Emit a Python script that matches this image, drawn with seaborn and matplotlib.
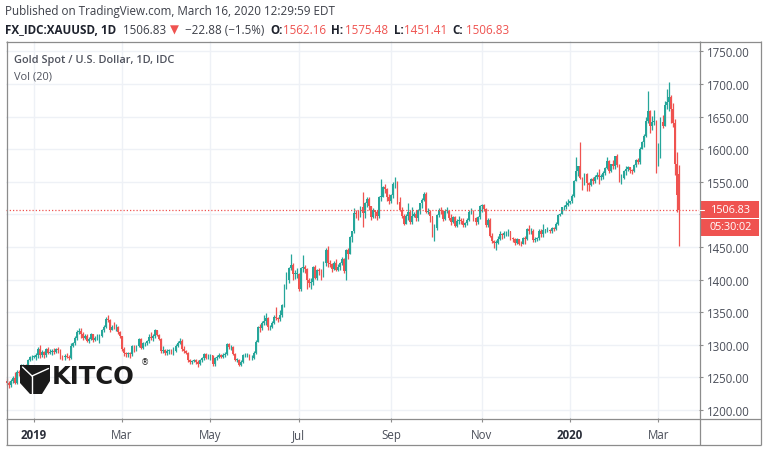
import numpy as np
import pandas as pd
import matplotlib
matplotlib.use("Agg")
import matplotlib.pyplot as plt
import seaborn as sns
from matplotlib.patches import Rectangle, Polygon
from matplotlib.ticker import FuncFormatter

# ---------------- data (daily candles, XAU/USD, FX_IDC) ----------------
start_date = "2018-12-13"
first_open = 1244.0
last_open = 1562.16

closes = [
    # Dec 2018
    1242, 1238, 1245, 1249, 1242, 1258, 1257, 1268, 1268, 1267, 1276, 1281, 1282,
    # Jan 2019
    1282, 1284, 1294, 1285, 1289, 1284, 1293, 1288, 1289, 1291, 1289, 1293, 1292, 1282, 1281, 1283, 1282, 1280, 1298, 1302, 1311, 1319, 1321,
    # Feb
    1317, 1311, 1314, 1306, 1309, 1316, 1308, 1311, 1313, 1314, 1322, 1327, 1340, 1338, 1323, 1328, 1327, 1328, 1319, 1313,
    # Mar
    1293, 1287, 1286, 1287, 1286, 1298, 1291, 1298, 1309, 1295, 1302, 1302, 1306, 1312, 1310, 1313, 1322, 1315, 1309, 1291, 1292,
    # Apr
    1287, 1291, 1291, 1290, 1291, 1298, 1303, 1306, 1293, 1290, 1288, 1276, 1273, 1275, 1276, 1274, 1271, 1276, 1280, 1286, 1280, 1283,
    # May
    1284, 1271, 1280, 1282, 1284, 1281, 1284, 1286, 1301, 1296, 1297, 1286, 1277, 1277, 1269, 1274, 1284, 1284, 1285, 1279, 1280, 1288, 1305,
    # Jun
    1327, 1326, 1333, 1337, 1341, 1327, 1327, 1334, 1342, 1341, 1340, 1346, 1361, 1387, 1399, 1418, 1423, 1409, 1409, 1409,
    # Jul
    1385, 1418, 1419, 1416, 1400, 1395, 1397, 1419, 1403, 1415, 1413, 1406, 1426, 1446, 1426, 1424, 1417, 1426, 1415, 1419, 1426, 1431, 1413,
    # Aug
    1445, 1440, 1465, 1474, 1502, 1500, 1497, 1511, 1502, 1517, 1524, 1513, 1496, 1507, 1503, 1497, 1527, 1527, 1542, 1539, 1527, 1520,
    # Sep
    1530, 1547, 1550, 1519, 1506, 1498, 1486, 1497, 1504, 1488, 1498, 1501, 1494, 1506, 1517, 1522, 1531, 1504, 1504, 1497, 1472,
    # Oct
    1479, 1499, 1506, 1505, 1493, 1505, 1505, 1494, 1489, 1496, 1482, 1490, 1491, 1490, 1484, 1487, 1492, 1504, 1505, 1494, 1488, 1496, 1513,
    # Nov
    1514, 1509, 1484, 1491, 1467, 1459, 1456, 1456, 1463, 1470, 1468, 1471, 1472, 1474, 1464, 1462, 1456, 1462, 1455, 1454, 1464,
    # Dec
    1462, 1477, 1474, 1475, 1460, 1462, 1464, 1475, 1470, 1476, 1476, 1476, 1475, 1479, 1478, 1486, 1499, 1501, 1511, 1511, 1515, 1517,
    # Jan 2020
    1520, 1528, 1552, 1566, 1574, 1556, 1552, 1562, 1548, 1545, 1554, 1552, 1557, 1560, 1558, 1558, 1563, 1571, 1582, 1567, 1577, 1575, 1589,
    # Feb 2020
    1576, 1553, 1556, 1566, 1570, 1572, 1568, 1566, 1576, 1584, 1580, 1601, 1611, 1620, 1643, 1658, 1635, 1641, 1643, 1586,
    # Mar 2020
    1591, 1641, 1636, 1668, 1673, 1680, 1662, 1640, 1577, 1529.71, 1506.83,
]

highs = [
    1249, 1244, 1248, 1252, 1258, 1261, 1262, 1270, 1270, 1271, 1278, 1283, 1284,
    1284, 1288, 1296, 1299, 1292, 1290, 1295, 1296, 1293, 1294, 1295, 1295, 1297, 1294, 1284, 1286, 1287, 1285, 1303, 1304, 1313, 1322, 1326,
    1325, 1319, 1316, 1316, 1312, 1318, 1317, 1314, 1316, 1317, 1324, 1330, 1342, 1346, 1340, 1331, 1335, 1332, 1329, 1321,
    1314, 1296, 1289, 1289, 1289, 1300, 1299, 1300, 1311, 1310, 1304, 1305, 1308, 1316, 1320, 1316, 1324, 1323, 1317, 1310, 1298,
    1294, 1293, 1294, 1293, 1296, 1301, 1306, 1310, 1309, 1298, 1292, 1289, 1278, 1277, 1278, 1278, 1276, 1278, 1282, 1288, 1287, 1286,
    1286, 1284, 1282, 1284, 1287, 1286, 1287, 1289, 1303, 1302, 1300, 1298, 1288, 1280, 1278, 1276, 1286, 1287, 1287, 1286, 1284, 1290, 1307,
    1329, 1332, 1336, 1346, 1348, 1342, 1331, 1337, 1346, 1358, 1343, 1353, 1363, 1393, 1411, 1420, 1439, 1425, 1415, 1418,
    1410, 1420, 1438, 1422, 1418, 1403, 1402, 1421, 1423, 1417, 1418, 1416, 1428, 1448, 1452, 1430, 1426, 1428, 1432, 1424, 1427, 1434, 1433,
    1447, 1449, 1467, 1475, 1510, 1507, 1506, 1513, 1534, 1519, 1526, 1526, 1513, 1510, 1507, 1506, 1529, 1555, 1543, 1546, 1541, 1531,
    1532, 1549, 1557, 1552, 1527, 1512, 1500, 1501, 1518, 1506, 1512, 1504, 1507, 1509, 1518, 1525, 1535, 1534, 1510, 1507, 1497,
    1485, 1501, 1510, 1512, 1507, 1508, 1511, 1507, 1500, 1498, 1497, 1493, 1497, 1495, 1494, 1489, 1495, 1506, 1510, 1506, 1496, 1498, 1515,
    1516, 1516, 1510, 1495, 1494, 1471, 1461, 1460, 1467, 1474, 1471, 1474, 1475, 1478, 1475, 1466, 1464, 1464, 1462, 1459, 1466,
    1467, 1479, 1484, 1479, 1477, 1466, 1466, 1477, 1477, 1486, 1478, 1481, 1478, 1481, 1480, 1488, 1500, 1502, 1512, 1514, 1520, 1524,
    1521, 1532, 1553, 1588, 1575, 1611, 1558, 1563, 1563, 1550, 1556, 1558, 1560, 1565, 1570, 1562, 1566, 1573, 1588, 1583, 1578, 1584, 1589,
    1592, 1577, 1562, 1568, 1574, 1575, 1573, 1570, 1578, 1585, 1586, 1604, 1612, 1623, 1649, 1689, 1660, 1651, 1660, 1645,
    1610, 1649, 1652, 1674, 1692, 1703, 1683, 1671, 1646, 1595, 1575.48,
]

lows = [
    1238, 1234, 1236, 1242, 1240, 1240, 1252, 1255, 1266, 1263, 1264, 1275, 1277,
    1280, 1276, 1280, 1280, 1282, 1279, 1282, 1286, 1286, 1285, 1286, 1287, 1288, 1278, 1277, 1276, 1279, 1277, 1278, 1296, 1300, 1308, 1316,
    1310, 1308, 1309, 1304, 1303, 1307, 1305, 1306, 1307, 1303, 1312, 1320, 1325, 1335, 1320, 1322, 1324, 1321, 1316, 1310,
    1291, 1283, 1282, 1281, 1280, 1283, 1289, 1290, 1296, 1293, 1294, 1298, 1300, 1302, 1308, 1306, 1311, 1313, 1307, 1288, 1288,
    1284, 1284, 1286, 1286, 1285, 1289, 1296, 1301, 1291, 1288, 1286, 1274, 1271, 1270, 1273, 1271, 1266, 1269, 1274, 1277, 1278, 1278,
    1277, 1268, 1267, 1276, 1279, 1279, 1280, 1281, 1284, 1294, 1292, 1284, 1275, 1273, 1267, 1268, 1272, 1281, 1282, 1276, 1276, 1278, 1286,
    1304, 1320, 1322, 1330, 1331, 1323, 1322, 1326, 1332, 1338, 1335, 1337, 1342, 1358, 1385, 1395, 1414, 1400, 1401, 1402,
    1382, 1383, 1412, 1410, 1386, 1388, 1385, 1392, 1401, 1400, 1407, 1400, 1404, 1421, 1420, 1419, 1412, 1414, 1413, 1413, 1414, 1423, 1410,
    1400, 1432, 1439, 1457, 1471, 1495, 1492, 1496, 1480, 1495, 1511, 1506, 1492, 1494, 1495, 1492, 1494, 1520, 1526, 1533, 1520, 1516,
    1517, 1525, 1541, 1516, 1505, 1494, 1484, 1485, 1491, 1486, 1486, 1496, 1490, 1490, 1501, 1510, 1520, 1502, 1500, 1488, 1465,
    1459, 1476, 1496, 1501, 1490, 1491, 1502, 1491, 1484, 1487, 1480, 1480, 1486, 1485, 1481, 1481, 1484, 1490, 1500, 1490, 1484, 1485, 1493,
    1503, 1505, 1481, 1480, 1466, 1456, 1449, 1445, 1455, 1460, 1463, 1464, 1467, 1467, 1461, 1458, 1453, 1454, 1453, 1452, 1454,
    1455, 1460, 1470, 1470, 1458, 1458, 1459, 1461, 1465, 1466, 1472, 1473, 1472, 1472, 1474, 1476, 1484, 1497, 1500, 1507, 1508, 1513,
    1516, 1517, 1526, 1552, 1559, 1554, 1537, 1545, 1536, 1536, 1543, 1546, 1548, 1555, 1547, 1553, 1554, 1560, 1569, 1563, 1565, 1569, 1570,
    1573, 1549, 1547, 1554, 1561, 1567, 1563, 1562, 1565, 1573, 1578, 1578, 1600, 1604, 1618, 1640, 1625, 1630, 1637, 1563,
    1575, 1586, 1633, 1635, 1662, 1658, 1640, 1634, 1560, 1504, 1451.41,
]

tick_dates = ["2019-01-01", "2019-03-01", "2019-05-01", "2019-07-01",
              "2019-09-02", "2019-11-01", "2020-01-01", "2020-03-02"]
tick_labels = ["2019", "Mar", "May", "Jul", "Sep", "Nov", "2020", "Mar"]
year_labels = {"2019", "2020"}
price_ticks = [1200, 1250, 1300, 1350, 1400, 1450, 1500, 1550, 1600, 1650, 1700, 1750]
hidden_price_labels = [1500]   # covered by the last-price tag in the reference
last_price = 1506.83
countdown = "05:30:02"

# ---------------- styling ----------------
UP = "#26a69a"
DOWN = "#ef5350"
GRID = "#eef1f6"
FRAME = "#8c8c8c"
TXT = "#4a4e59"

sns.set_theme(style="white")
plt.rcParams["font.family"] = ["Open Sans", "DejaVu Sans"]

closes = np.asarray(closes, float)
highs = np.asarray(highs, float)
lows = np.asarray(lows, float)
n = len(closes)
dates = pd.bdate_range(start_date, periods=n)
opens = np.r_[first_open, closes[:-1]]
opens[-1] = last_open
df = pd.DataFrame({"date": dates, "open": opens, "high": highs,
                   "low": lows, "close": closes})
df["i"] = np.arange(n)
df["up"] = df["close"] >= df["open"]

W, H = 768, 452
fig = plt.figure(figsize=(W / 100, H / 100), dpi=100)
fig.patch.set_facecolor("white")

PX_BAR = 2.055
ax = fig.add_axes([6 / W, 1 - 419 / H, 693 / W, 377 / H])
ax.set_facecolor("white")
ax.set_xlim(-0.49, -0.49 + 693 / PX_BAR)
ax.set_ylim(1187.7, 1766.0)

# grid
ax.set_yticks(price_ticks)
tick_pos = dates.get_indexer(pd.to_datetime(tick_dates))
ax.set_xticks(tick_pos)
ax.set_xticklabels(tick_labels)
ax.grid(True, color=GRID, lw=1.0, zorder=0)
ax.set_axisbelow(True)
for s in ax.spines.values():
    s.set_visible(False)

# candles
cols = np.where(df["up"], UP, DOWN)
ax.vlines(df["i"], df["low"], df["high"], colors=cols, lw=0.9, zorder=2)
body_bot = np.minimum(df["open"], df["close"])
body_h = np.maximum(np.abs(df["close"] - df["open"]), 1.0)
ax.bar(df["i"], body_h, bottom=body_bot, width=0.86, color=cols,
       linewidth=0, zorder=3)

# last price dotted line
ax.axhline(last_price, color=DOWN, lw=0.9, ls=(0, (1, 1.6)), zorder=4)

# axis ticks
ax.yaxis.tick_right()
ax.yaxis.set_major_formatter(FuncFormatter(
    lambda v, p: "" if round(v) in hidden_price_labels else f"{v:.2f}"))
ax.tick_params(axis="y", right=True, left=False, length=3, width=0.8,
               color=FRAME, labelcolor=TXT, labelsize=8.3, pad=3)
ax.tick_params(axis="x", bottom=True, length=3, width=0.8, color=FRAME,
               labelcolor=TXT, labelsize=8.3, pad=4)
for lab in ax.get_xticklabels():
    if lab.get_text() in year_labels:
        lab.set_fontweight("bold")
        lab.set_color("#2a2e39")

# ---------------- overlay: frame, header, labels, logo ----------------
ov = fig.add_axes([0, 0, 1, 1], zorder=5)
ov.set_xlim(0, W)
ov.set_ylim(H, 0)
ov.axis("off")
ov.patch.set_alpha(0)

fl = dict(color=FRAME, lw=0.9, solid_capstyle="butt")
ov.plot([6, 761], [42.5, 42.5], **fl)
ov.plot([6, 761], [419.5, 419.5], **fl)
ov.plot([6, 761], [445.5, 445.5], **fl)
ov.plot([6.5, 6.5], [42, 446], **fl)
ov.plot([699.5, 699.5], [42, 446], **fl)
ov.plot([760.5, 760.5], [42, 446], **fl)

# last price labels
ov.add_patch(Rectangle((700, 201.5), 59, 17, color=DOWN, lw=0))
ov.add_patch(Rectangle((700, 219.5), 59, 17, color=DOWN, lw=0))
ov.plot([700, 704], [210.5, 210.5], color="white", lw=0.8)
ov.text(731, 210.5, f"{last_price:.2f}", color="white", fontsize=7.8,
        ha="center", va="center")
ov.text(731, 228, countdown, color="white", fontsize=7.8,
        ha="center", va="center")

# header
HDR = "#3c3f48"
ov.text(5, 12, "Published on TradingView.com, March 16, 2020 12:29:59 EDT",
        color=HDR, fontsize=8.4, ha="left", va="center")
parts = [
    (5, "FX_IDC:XAUUSD, 1D", "#1e222d", "bold"),
    (123, "1506.83", HDR, "normal"),
    (170, "\u25BC", DOWN, "normal"),
    (185, "\u221222.88 (\u22121.5%)", HDR, "normal"),
    (270, "O:", "#1e222d", "bold"),
    (283, "1562.16", DOWN, "normal"),
    (331, "H:", "#1e222d", "bold"),
    (345, "1575.48", DOWN, "normal"),
    (394, "L:", "#1e222d", "bold"),
    (404, "1451.41", DOWN, "normal"),
    (452, "C:", "#1e222d", "bold"),
    (466, "1506.83", DOWN, "normal"),
]
for x, s, c, w in parts:
    ov.text(x, 30, s, color=c, fontsize=8.4, fontweight=w, ha="left",
            va="center", family=["Open Sans", "DejaVu Sans"])

ov.text(14, 61, "Gold Spot / U.S. Dollar, 1D, IDC", color="#50535e",
        fontsize=7.9, fontweight="semibold", ha="left", va="center")
ov.text(14, 77, "Vol (20)", color="#50535e", fontsize=7.9,
        ha="left", va="center")

# KITCO logo
ov.add_patch(Polygon([(20, 366), (50, 366), (50, 382), (42, 395),
                      (30, 395), (20, 384)], closed=True, color="#1a1a1a",
                     lw=0, zorder=6))
ov.plot([22.5, 32], [368, 377], color="white", lw=1.0, zorder=7)
ov.plot([32, 48.5], [377, 369.5], color="white", lw=1.0, zorder=7)
ov.plot([32, 32], [377, 395], color="white", lw=1.0, zorder=7)
ov.text(52, 384.5, "KITCO", color="#1a1a1a", fontsize=17.5,
        fontweight="bold", ha="left", va="baseline", family="DejaVu Sans",
        zorder=7)
ov.text(141, 362.5, "\u00AE", color="#1a1a1a", fontsize=6, ha="left",
        va="center", family="DejaVu Sans", zorder=7)

fig.savefig("out.png", dpi=100, facecolor="white")
